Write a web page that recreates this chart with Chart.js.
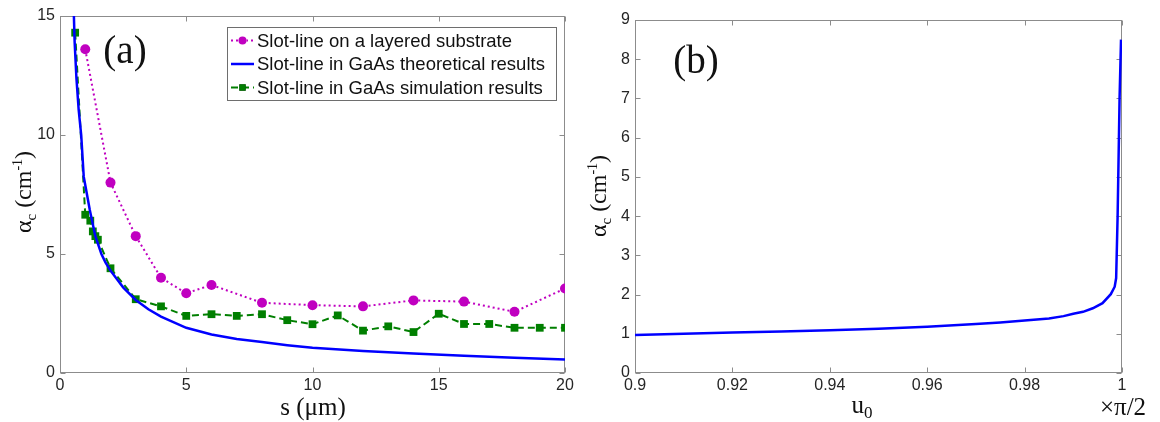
<!DOCTYPE html>
<html>
<head>
<meta charset="utf-8">
<script src="https://cdn.jsdelivr.net/npm/chart.js@4"></script>
<style>
  html, body { margin: 0; padding: 0; background: #fff; }
  #wrap { position: relative; width: 1160px; height: 422px; }
  canvas { position: absolute; top: 0; }
</style>
</head>
<body>
<div id="wrap">
  <canvas id="chart-a" width="580" height="422" style="left:0"></canvas>
  <canvas id="chart-b" width="580" height="422" style="left:580px"></canvas>
</div>
<script>
// ---- panel (a): attenuation vs slot width s (um) ----
const layeredS = [1, 2, 3, 4, 5, 6, 8, 10, 12, 14, 16, 18, 20];
const layeredAlpha = [13.6, 8.0, 5.75, 4.0, 3.35, 3.7, 2.95, 2.85, 2.8, 3.05, 3.0, 2.57, 3.55];

const theoryS = [0.55, 0.58, 0.65, 0.74, 0.84, 0.94, 1.0, 1.18, 1.4, 1.64, 1.8, 2, 2.5, 3, 3.5, 4, 5, 6, 7, 8, 9, 10, 12, 14, 16, 18, 20];
const theoryAlpha = [15, 13.9, 12.4, 11.05, 10, 8.25, 7.9, 6.85, 5.75, 5.0, 4.65, 4.3, 3.6, 3.07, 2.68, 2.37, 1.9, 1.62, 1.43, 1.3, 1.17, 1.06, 0.92, 0.82, 0.72, 0.64, 0.57];

const simS = [0.6, 1.0, 1.2, 1.3, 1.4, 1.5, 2, 3, 4, 5, 6, 7, 8, 9, 10, 11, 12, 13, 14, 15, 16, 17, 18, 19, 20];
const simAlpha = [14.3, 6.65, 6.4, 5.95, 5.75, 5.6, 4.4, 3.1, 2.8, 2.4, 2.47, 2.4, 2.47, 2.22, 2.05, 2.42, 1.78, 1.96, 1.72, 2.49, 2.06, 2.06, 1.9, 1.9, 1.9];

const xTicksA = [0, 5, 10, 15, 20];
const yTicksA = [0, 5, 10, 15];

// ---- panel (b): attenuation vs u0 (x pi/2) ----
const u0 = [0.9, 0.91, 0.92, 0.93, 0.94, 0.95, 0.96, 0.97, 0.975, 0.98, 0.985, 0.988, 0.99, 0.992, 0.994, 0.996, 0.9977, 0.9985, 0.9988, 0.9991, 0.9995, 0.9998];
const u0Alpha = [0.97, 1.0, 1.03, 1.06, 1.09, 1.13, 1.18, 1.25, 1.29, 1.34, 1.39, 1.45, 1.51, 1.56, 1.65, 1.78, 2.01, 2.2, 2.42, 4.0, 7.0, 8.5];

const xTicksB = [0.9, 0.92, 0.94, 0.96, 0.98, 1];
const yTicksB = [0, 1, 2, 3, 4, 5, 6, 7, 8, 9];

const legendLabels = [
  'Slot-line on a layered substrate',
  'Slot-line in GaAs theoretical results',
  'Slot-line in GaAs simulation results'
];

const SERIF = '"Liberation Serif", "Times New Roman", serif';
const SANS = '"Liberation Sans", Arial, sans-serif';
const BOX_COLOR = '#8c8c8c';

function pts(xs, ys) {
  return xs.map((x, i) => ({ x: x, y: ys[i] }));
}

function axis(min, max, ticks, size, isX) {
  return {
    type: 'linear',
    min: min,
    max: max,
    grid: { display: false, drawTicks: false },
    border: { display: false },
    ticks: {
      color: '#262626',
      font: { family: SANS, size: 16 },
      padding: isX ? 3 : 5,
      autoSkip: false,
      maxRotation: 0,
      callback: v => String(v)
    },
    afterBuildTicks: s => { s.ticks = ticks.map(v => ({ value: v })); },
    afterFit: s => { if (isX) s.height = size; else s.width = size; }
  };
}

// matlab style box with inward ticks on all four sides
const boxTicks = {
  id: 'boxTicks',
  beforeDatasetsDraw(chart) {
    const { ctx, chartArea: a, scales: { x, y } } = chart;
    const L = Math.round(a.left) + 0.5, R = Math.round(a.right) - 0.5;
    const T = Math.round(a.top) + 0.5, B = Math.round(a.bottom) - 0.5;
    ctx.save();
    ctx.strokeStyle = BOX_COLOR;
    ctx.lineWidth = 1;
    ctx.strokeRect(L, T, R - L, B - T);
    ctx.beginPath();
    x.ticks.forEach(t => {
      const px = Math.round(x.getPixelForValue(t.value)) + 0.5;
      ctx.moveTo(px, B); ctx.lineTo(px, B - 5);
      ctx.moveTo(px, T); ctx.lineTo(px, T + 5);
    });
    y.ticks.forEach(t => {
      const py = Math.round(y.getPixelForValue(t.value)) + 0.5;
      ctx.moveTo(L, py); ctx.lineTo(L + 5, py);
      ctx.moveTo(R, py); ctx.lineTo(R - 5, py);
    });
    ctx.stroke();
    ctx.restore();
  }
};

// text with sub/superscripts: parts = [text, fontSize, baselineShift]
function drawRich(ctx, parts, x, y, rotate) {
  ctx.save();
  ctx.translate(x, y);
  if (rotate) ctx.rotate(-Math.PI / 2);
  let total = 0;
  parts.forEach(p => {
    ctx.font = p[1] + 'px ' + SERIF;
    total += ctx.measureText(p[0]).width;
  });
  let cx = -total / 2;
  ctx.fillStyle = '#111';
  ctx.textBaseline = 'alphabetic';
  ctx.textAlign = 'left';
  parts.forEach(p => {
    ctx.font = p[1] + 'px ' + SERIF;
    ctx.fillText(p[0], cx, p[2]);
    cx += ctx.measureText(p[0]).width;
  });
  ctx.restore();
}

function textPlugin(items) {
  return {
    id: 'panelText',
    afterDraw(chart) {
      items.forEach(it => drawRich(chart.ctx, it.parts, it.x, it.y, it.rotate));
    }
  };
}

const alphaTitle = [['α', 24, 0], ['c', 15, 5], [' (cm', 24, 0], ['-1', 14, -9], [')', 24, 0]];

const legendPlugin = {
  id: 'matlabLegend',
  afterDraw(chart) {
    const ctx = chart.ctx;
    const box = { left: 227, top: 27, right: 556, bottom: 100 };
    const rows = [40.5, 64, 87.5];
    ctx.save();
    ctx.fillStyle = '#fff';
    ctx.fillRect(box.left, box.top, box.right - box.left, box.bottom - box.top);
    ctx.strokeStyle = '#6e6e6e';
    ctx.lineWidth = 1;
    ctx.strokeRect(box.left + 0.5, box.top + 0.5, box.right - box.left, box.bottom - box.top);
    chart.data.datasets.forEach((ds, i) => {
      const yy = rows[i];
      ctx.strokeStyle = ds.borderColor;
      ctx.lineWidth = ds.borderWidth;
      ctx.setLineDash(ds.borderDash || []);
      ctx.beginPath();
      ctx.moveTo(231, yy);
      ctx.lineTo(254, yy);
      ctx.stroke();
      ctx.setLineDash([]);
      if (ds.pointRadius > 0) {
        Chart.helpers.drawPoint(ctx, {
          pointStyle: ds.pointStyle,
          radius: ds.pointRadius - 1,
          rotation: 0,
          borderWidth: 0
        }, 242.5, yy);
        ctx.fillStyle = ds.borderColor;
        ctx.fill();
      }
      ctx.fillStyle = '#111';
      ctx.font = '18.5px ' + SANS;
      ctx.textBaseline = 'middle';
      ctx.fillText(legendLabels[i], 257, yy + 1);
    });
    ctx.restore();
  }
};

new Chart(document.getElementById('chart-a'), {
  type: 'line',
  data: {
    datasets: [
      {
        label: legendLabels[0],
        data: pts(layeredS, layeredAlpha),
        borderColor: '#c000c0',
        backgroundColor: '#c000c0',
        borderWidth: 2,
        borderDash: [2, 3],
        pointStyle: 'circle',
        pointRadius: 5,
        pointBorderWidth: 0,
        pointBackgroundColor: '#c000c0'
      },
      {
        label: legendLabels[1],
        data: pts(theoryS, theoryAlpha),
        borderColor: '#0000ff',
        borderWidth: 2.5,
        pointRadius: 0
      },
      {
        label: legendLabels[2],
        data: pts(simS, simAlpha),
        borderColor: '#007f00',
        backgroundColor: '#007f00',
        borderWidth: 2,
        borderDash: [7, 4],
        pointStyle: 'rect',
        pointRadius: 5.5,
        pointBorderWidth: 0,
        pointBackgroundColor: '#007f00'
      }
    ]
  },
  options: {
    responsive: false,
    animation: false,
    events: [],
    layout: { padding: { left: 0, right: 15, top: 16, bottom: 0 } },
    elements: { line: { tension: 0 } },
    plugins: { legend: { display: false }, tooltip: { enabled: false } },
    scales: {
      x: axis(0, 20, xTicksA, 49, true),
      y: axis(0, 15, yTicksA, 60, false)
    }
  },
  plugins: [
    boxTicks,
    legendPlugin,
    textPlugin([
      { parts: alphaTitle, x: 31, y: 192, rotate: true },
      { parts: [['s (μm)', 25, 0]], x: 313, y: 415, rotate: false },
      { parts: [['(a)', 39, 0]], x: 125, y: 63, rotate: false }
    ])
  ]
});

new Chart(document.getElementById('chart-b'), {
  type: 'line',
  data: {
    datasets: [
      {
        label: 'u0',
        data: pts(u0, u0Alpha),
        borderColor: '#0000ff',
        borderWidth: 2.5,
        pointRadius: 0
      }
    ]
  },
  options: {
    responsive: false,
    animation: false,
    events: [],
    layout: { padding: { left: 0, right: 38, top: 20, bottom: 0 } },
    elements: { line: { tension: 0 } },
    plugins: { legend: { display: false }, tooltip: { enabled: false } },
    scales: {
      x: axis(0.9, 1, xTicksB, 49, true),
      y: axis(0, 9, yTicksB, 55, false)
    }
  },
  plugins: [
    boxTicks,
    textPlugin([
      { parts: alphaTitle, x: 26, y: 196, rotate: true },
      { parts: [['u', 25, 0], ['0', 17, 5]], x: 282, y: 413, rotate: false },
      { parts: [['×π/2', 25, 0]], x: 543, y: 415, rotate: false },
      { parts: [['(b)', 39, 0]], x: 116, y: 73, rotate: false }
    ])
  ]
});
</script>
</body>
</html>
